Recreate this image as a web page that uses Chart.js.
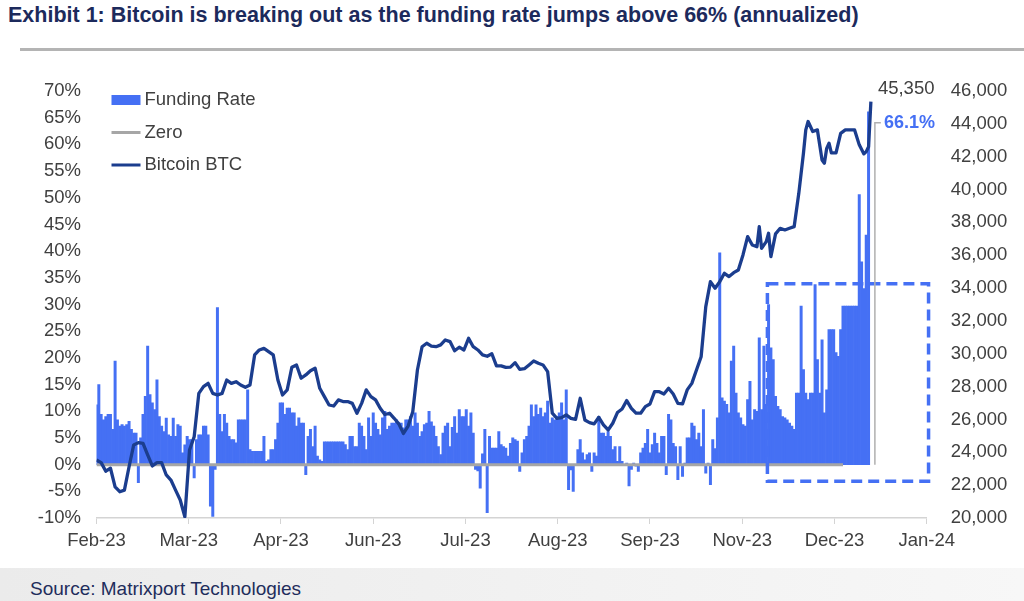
<!DOCTYPE html>
<html lang="en">
<head>
  <meta charset="UTF-8">
  <title>Exhibit 1: Bitcoin funding rate</title>
  <style>
    body {
      margin: 0;
      width: 1024px;
      height: 601px;
      background: #ffffff;
      position: relative;
      overflow: hidden;
      font-family: "Liberation Sans", Arial, sans-serif;
    }
    #title {
      position: absolute;
      left: 8px;
      top: 3px;
      font-size: 21.5px;
      font-weight: bold;
      color: #1c2a5c;
      white-space: nowrap;
    }
    #rule {
      position: absolute;
      left: 20px;
      right: 0;
      top: 48px;
      height: 3px;
      background: #b4b4b4;
    }
    #chart {
      position: absolute;
      left: 0;
      top: 0;
    }
    #footer {
      position: absolute;
      left: 0;
      top: 568px;
      width: 1024px;
      height: 33px;
      background: linear-gradient(90deg, #ebebeb, #f7f7f7);
    }
    #footer span {
      position: absolute;
      left: 30px;
      top: 10px;
      font-size: 19px;
      color: #1f2d5c;
    }
  </style>
</head>
<body>
  <div id="title">Exhibit 1: Bitcoin is breaking out as the funding rate jumps above 66% (annualized)</div>
  <div id="rule"></div>
  <canvas id="chart" width="1024" height="567"></canvas>
  <div id="footer"><span>Source: Matrixport Technologies</span></div>

  <script src="https://cdn.jsdelivr.net/npm/chart.js"></script>
  <script>
    // x axis runs in days counted from 1 Feb 2023
    const xTickLabels = ['Feb-23', 'Mar-23', 'Apr-23', 'Jun-23', 'Jul-23', 'Aug-23', 'Sep-23', 'Nov-23', 'Dec-23', 'Jan-24'];
    const axisDays = 357;

    // funding rate, annualized %, one value per day from day 0
    const fundingRate = [
      11.2, 15, 9.4, 8.4, 9, 9.4, 9.4, 6.6, 19.4, 8.4, 7.2, 7.5, 7.2, 7.5, 8.1, 6.6, 5.9, 5.9, -3.4, 5,
      9.4, 12.8, 22.2, 13.1, 11.6, 10.3, 15.9, 9, 7.2, 6.2, 8.7, 5.6, 5.3, 8.7, 5.3, 7.5, 7.2, 2.2, 3.7, 5.3,
      4.7, 4.7, -2.5, 4.7, 5.6, 5.6, 7.2, 7.2, 5.6, -7.8, -9.7, -0.9, 29.4, 9.4, 6.2, 9.4, 7.8, 5.3, 4.7, 4.7,
      4.1, 8.4, 8.4, 8.4, 8.4, 14, 2.8, 2.5, 2.5, 2.5, 2.5, 2.5, 5.3, 0.6, 0.9, 2.8, 2.8, 4.7, 7.8, 11.6,
      11.6, 9.4, 10.6, 10.6, 9.7, 9.7, 7.2, 8.75, 7.8, 7.8, -1.9, 5.3, 6.6, 3.4, 7.2, 1.6, 0.9, 0.6, 4.25, 4.25,
      4.25, 4.25, 4.25, 4.25, 4.25, 4.25, 4.25, 3.75, 2.8, 5.3, 5.3, 3.4, 3.4, 7.8, 7.2, 5.3, 2.8, 8.75, 5.3, 9.7,
      7.8, 6.6, 5.6, 8.75, 10, 6.6, 7.2, 7.8, 7.8, 8.4, 7.8, 7.8, 6.9, 8.4, 8.4, 9, 7.2, 9.7, 7.8, 5.3,
      6.2, 7.5, 7.8, 10, 8, 7.2, 5.3, 3.4, 1.9, 5.9, 7.2, 7.8, 3.4, 7, 9, 5.9, 10.3, 9, 9, 10.3,
      7.2, 9.7, 5.9, -0.9, -1.2, -4.4, 2, 6.6, -9, 5.3, 3.1, 3.1, 3.1, 6.2, 3.75, 3.4, 3.1, 1.6, 4, 5,
      4.7, 4.4, -1.25, 2.2, 4.7, 5.3, 7.2, 11.2, 9, 11.2, 9.4, 10.6, 9, 9.7, 11.9, 7.8, 8.75, 8.4, 9, 9.7,
      11.6, 8.4, 14, -4.7, -1, -5, 0, 2.8, 4.7, 2.2, 0.9, 1.9, 2.2, -1.25, 2.2, 1.6, 9, 5.9, 5.9, 5.3,
      6.2, 5.3, 2.8, 3.4, 0.6, 3.4, 0.6, 0, 0.3, -4, -0.9, 0.3, -0.3, -1.25, 2.2, 3.1, 4, 6.6, 2.2, 3.75,
      5.9, 4, 2.2, 5.3, 5.3, -1.9, 9.4, 8.4, 4, 3.4, -2.8, 3.4, -2.2, 0.3, 5, 5, 7.8, 7.2, 4.7, 5.9,
      3.4, 10.3, -1.6, 0.3, -3.75, 4.7, 3, 8.75, 39.7, 12.5, 11.9, 11.3, 9.7, 19.4, 22.2, 13.4, 9.7, 8.75, 7.5, 7.2,
      12.2, 15.6, 8.4, 10.3, 10, 23.75, 10.3, 22.2, 11.3, 30, 21.9, 19.7, 12.8, 10.9, 10.3, 9, 8.75, 8.4, 7.8, 7.2,
      6.6, 13.4, 13.4, 29.7, 17.8, 13.4, 12.2, 13.4, 13.4, 33.75, 19.7, 13.4, 23.4, 9.7, 14, 25.3, 25.3, 25.3, 21, 20.3,
      25.3, 29.7, 29.7, 29.7, 29.7, 29.7, 29.7, 29.7, 50.6, 38, 33, 43, 66.1
    ];

    // Bitcoin close, USD
    const btcDay = [
      0, 2, 4, 6, 8, 10, 12, 14, 16, 18, 20, 22, 24, 26, 28, 30, 32, 34, 36, 38,
      40, 42, 44, 46, 48, 50, 52, 54, 56, 58, 60, 62, 64, 66, 68, 70, 72, 74, 76, 78,
      80, 82, 84, 86, 88, 90, 92, 94, 96, 98, 100, 102, 104, 106, 108, 110, 112, 114, 116, 118,
      120, 122, 124, 126, 128, 130, 132, 134, 136, 138, 140, 142, 144, 146, 148, 150, 152, 154, 156, 158,
      160, 162, 164, 166, 168, 170, 172, 174, 176, 178, 180, 182, 184, 186, 188, 190, 192, 194, 196, 198,
      200, 202, 204, 206, 208, 210, 212, 214, 216, 218, 220, 222, 224, 226, 228, 230, 232, 234, 236, 238,
      240, 242, 244, 246, 248, 250, 252, 254, 256, 258, 260, 262, 264, 266, 268, 270, 272, 274, 276, 278,
      280, 282, 284, 285, 286, 288, 289, 290, 292, 294, 296, 298, 300, 302, 304, 305, 306, 308, 310, 312,
      313, 314, 315, 316, 318, 320, 322, 324, 326, 328, 330, 331, 332, 333
    ];
    const btcPrice = [
      23530, 23370, 22850, 23030, 21900, 21600, 21700, 23120, 24450, 24590, 24550, 23840, 23170, 23370, 23370, 22620, 22310, 21700, 21100, 20080,
      24140, 24950, 27590, 28000, 28200, 27590, 27490, 27590, 28400, 28200, 28300, 28100, 27960, 28100, 29930, 30230, 30330, 30130, 29930, 28400,
      27490, 27800, 29180, 29320, 28510, 28710, 28970, 29120, 27900, 27390, 26880, 26820, 27190, 27090, 27090, 26980, 26380, 26980, 27800, 27390,
      27190, 26680, 26300, 26380, 26070, 25730, 25150, 25600, 26470, 29010, 30430, 30640, 30470, 30430, 30540, 30840, 30740, 30180, 30400, 30230,
      30940, 30430, 30230, 29930, 29850, 30000, 29260, 29260, 29170, 29190, 29460, 29050, 29090, 29320, 29560, 29420, 29320, 28910, 26380, 26070,
      26110, 26280, 26070, 26010, 27290, 25970, 25810, 25730, 26130, 25670, 25360, 25770, 26420, 26640, 27150, 26680, 26380, 26380, 26780, 26940,
      27690, 27690, 27550, 27900, 27550, 26980, 26950, 27800, 28200, 29010, 29820, 32870, 34390, 33990, 34390, 34900, 34700, 34940, 35100, 36020,
      37130, 36620, 36520, 37740, 36420, 36830, 37340, 35910, 37300, 37640, 37540, 37640, 37740, 39770, 42210, 43630, 44140, 43530, 43630, 41800,
      41600, 42510, 42820, 42230, 42230, 43420, 43630, 43630, 43630, 42720, 42170, 42310, 42600, 45350
    ];

    // zero reference series runs until this day
    const zeroDays = [0, 321];

    // dashed highlight box: days and funding-rate %
    const boxDays = [288.5, 357.8];
    const boxRange = [33.9, -3.1];

    const BLUE = '#4570f4';
    const NAVY = '#1b3d8e';
    const GRAY = '#a6a6a6';
    const TEXT = '#404040';
    const FONT = '"Liberation Sans", Arial, sans-serif';

    Chart.defaults.font.family = FONT;
    Chart.defaults.font.size = 18.5;
    Chart.defaults.color = TEXT;

    const legendItems = [
      { label: 'Funding Rate', kind: 'box', color: BLUE },
      { label: 'Zero', kind: 'line', color: GRAY },
      { label: 'Bitcoin BTC', kind: 'line', color: NAVY }
    ];

    const extras = {
      id: 'extras',
      afterDatasetsDraw(chart) {
        const { ctx, chartArea, scales } = chart;
        const x = scales.x, y = scales.y, y1 = scales.y1;
        ctx.save();

        // dashed box round the latest funding run
        ctx.strokeStyle = BLUE;
        ctx.lineWidth = 3.5;
        ctx.setLineDash([11, 6]);
        const bx1 = x.getPixelForValue(boxDays[0]), bx2 = x.getPixelForValue(boxDays[1]);
        const by1 = y.getPixelForValue(boxRange[0]), by2 = y.getPixelForValue(boxRange[1]);
        ctx.strokeRect(bx1, by1, bx2 - bx1, by2 - by1);
        ctx.setLineDash([]);

        // last-value labels
        const lastDay = btcDay[btcDay.length - 1];
        const lastPrice = btcPrice[btcPrice.length - 1];
        const px = x.getPixelForValue(lastDay), py = y1.getPixelForValue(lastPrice);
        ctx.font = '18.5px ' + FONT;
        ctx.fillStyle = TEXT;
        ctx.textBaseline = 'middle';
        ctx.textAlign = 'left';
        ctx.fillText(lastPrice.toLocaleString('en-US'), px + 7, py - 13);

        const lastRate = fundingRate[fundingRate.length - 1];
        const fy = y.getPixelForValue(lastRate) + 11;
        const lx = px + 4;
        ctx.strokeStyle = '#b0b0b0';
        ctx.lineWidth = 1.5;
        ctx.beginPath();
        ctx.moveTo(lx + 6, fy);
        ctx.lineTo(lx, fy);
        ctx.lineTo(lx, y.getPixelForValue(0));
        ctx.stroke();
        ctx.font = 'bold 18px ' + FONT;
        ctx.fillStyle = BLUE;
        ctx.fillText(lastRate.toFixed(1) + '%', lx + 9, fy);

        // legend inside the plot
        ctx.font = '18.5px ' + FONT;
        legendItems.forEach((item, i) => {
          const ly = chartArea.top + 9 + i * 32.5;
          const sx = chartArea.left + 15;
          if (item.kind === 'box') {
            ctx.fillStyle = item.color;
            ctx.fillRect(sx, ly - 5, 29, 10);
          } else {
            ctx.strokeStyle = item.color;
            ctx.lineWidth = 3;
            ctx.beginPath();
            ctx.moveTo(sx, ly);
            ctx.lineTo(sx + 29, ly);
            ctx.stroke();
          }
          ctx.fillStyle = TEXT;
          ctx.fillText(item.label, sx + 33, ly);
        });
        ctx.restore();
      }
    };

    new Chart(document.getElementById('chart'), {
      type: 'bar',
      data: {
        datasets: [
          {
            type: 'line',
            label: 'Bitcoin BTC',
            data: btcDay.map((d, i) => ({ x: d, y: btcPrice[i] })),
            yAxisID: 'y1',
            borderColor: NAVY,
            borderWidth: 3.3,
            pointRadius: 0,
            borderJoinStyle: 'round',
            tension: 0,
            order: 0
          },
          {
            type: 'line',
            label: 'Zero',
            data: zeroDays.map(d => ({ x: d, y: 0 })),
            yAxisID: 'y',
            borderColor: GRAY,
            borderWidth: 3,
            pointRadius: 0,
            order: 1
          },
          {
            type: 'bar',
            label: 'Funding Rate',
            data: fundingRate.map((v, i) => ({ x: i, y: v })),
            yAxisID: 'y',
            backgroundColor: BLUE,
            borderWidth: 0,
            barPercentage: 1,
            categoryPercentage: 1,
            order: 2
          }
        ]
      },
      options: {
        responsive: false,
        animation: false,
        layout: { padding: { top: 91, bottom: 0, left: 0, right: 0 } },
        plugins: { legend: { display: false }, tooltip: { enabled: false } },
        scales: {
          x: {
            type: 'linear',
            min: 0,
            max: axisDays,
            offset: false,
            afterBuildTicks(s) {
              s.ticks = xTickLabels.map((_, i) => ({ value: i * axisDays / (xTickLabels.length - 1) }));
            },
            afterFit(s) { s.height = 49; },
            ticks: {
              autoSkip: false,
              maxRotation: 0,
              padding: 6,
              callback: (v, i) => xTickLabels[i]
            },
            grid: { drawOnChartArea: false, offset: false, tickLength: 6, color: '#d4d4d4' },
            border: { color: '#d4d4d4', width: 1.5 }
          },
          y: {
            position: 'left',
            min: -10,
            max: 70,
            afterFit(s) { s.width = 96.5; },
            ticks: { stepSize: 5, padding: 15.5, callback: v => v + '%' },
            grid: { display: false, drawTicks: false },
            border: { display: false }
          },
          y1: {
            position: 'right',
            min: 20000,
            max: 46000,
            afterFit(s) { s.width = 97.3; },
            ticks: { stepSize: 2000, padding: 24, callback: v => v.toLocaleString('en-US') },
            grid: { display: false, drawTicks: false },
            border: { display: false }
          }
        }
      },
      plugins: [extras]
    });
  </script>
</body>
</html>
